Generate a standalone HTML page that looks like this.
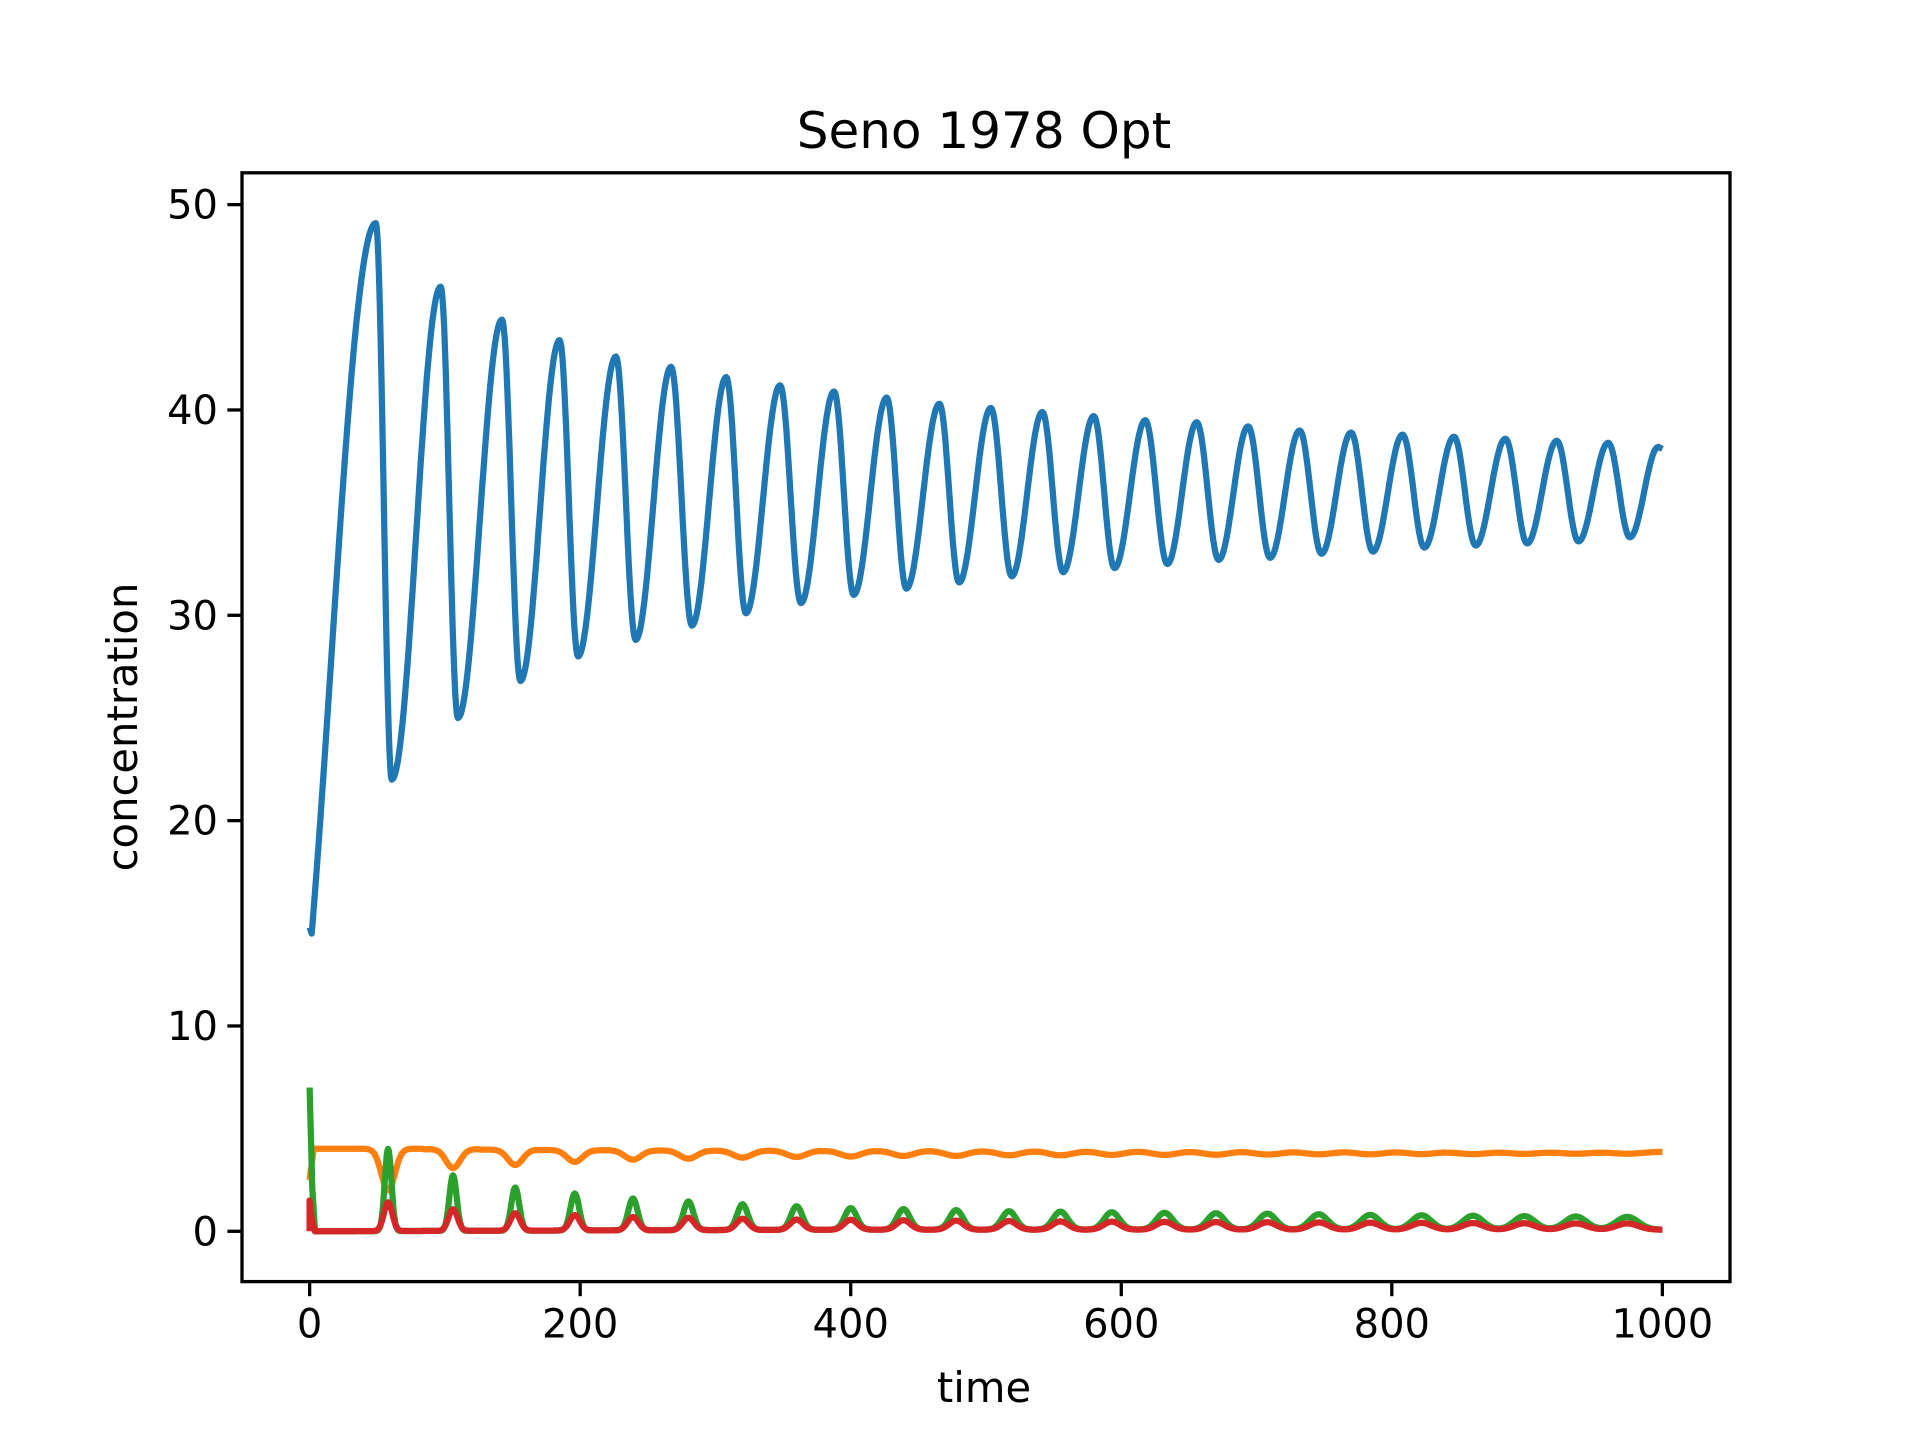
<!DOCTYPE html>
<html><head><meta charset="utf-8"><style>
body{margin:0;background:#fff}
svg{display:block}
text{font-family:"DejaVu Sans","Liberation Sans",sans-serif;fill:#000}
</style></head><body>
<svg id="chart" width="1920" height="1440" viewBox="0 0 1920 1440" xmlns="http://www.w3.org/2000/svg">
<rect width="1920" height="1440" fill="#fff"/>
<text x="984" y="148" font-size="50" text-anchor="middle">Seno 1978 Opt</text>
<text x="984" y="1402" font-size="41.7" text-anchor="middle">time</text>
<text transform="translate(137,727) rotate(-90)" font-size="41.7" text-anchor="middle">concentration</text>
<g id="plot"></g>
<rect x="242" y="172.8" width="1488" height="1108.8" fill="none" stroke="#000" stroke-width="3.3"/>
<g id="ticks"></g>
</svg>
<script>
const xTicks=[0,200,400,600,800,1000];
const yTicks=[0,10,20,30,40,50];
const blueStart=[[0,14.8],[1.5,14.5]];
const peakTimes=[48.9,96.9,142.2,184.8,226.4,267.2,308,347.8,387.7,426.6,465.6,503.6,541.7,579.7,617.8,655.8,693.8,731.9,769.9,808,846,884,922,960];
const peakVals=[49.1,46,44.4,43.4,42.6,42.1,41.6,41.2,40.9,40.6,40.3,40.1,39.9,39.7,39.5,39.4,39.2,39.0,38.9,38.8,38.7,38.6,38.5,38.4];
const troughTimes=[60.7,109.6,155.8,198.4,241,282.6,322.5,363.2,402.2,441.1,480.1,519,557,595,634,672,710,748,786,824,862,900,938,976];
const troughVals=[22.0,25.0,26.8,28.0,28.8,29.5,30.1,30.6,31.0,31.3,31.6,31.9,32.1,32.3,32.5,32.7,32.8,33.0,33.1,33.3,33.4,33.5,33.6,33.8];
const blueEnd=[[997,38.2],[1000,38.1]];
const spikeTimes=[58,106,152,196,239,280,320,360,400,439,478,517,555,593,632,670,708,746,784,822,860,898,936,974];
const greenPeaks=[4.0,2.7,2.1,1.8,1.55,1.4,1.25,1.15,1.05,1.0,0.95,0.9,0.88,0.85,0.82,0.8,0.78,0.75,0.72,0.7,0.68,0.66,0.64,0.62];
const redPeaks=[1.4,1.05,0.85,0.75,0.65,0.6,0.55,0.5,0.48,0.46,0.44,0.42,0.4,0.39,0.38,0.37,0.36,0.35,0.34,0.33,0.32,0.31,0.3,0.3];
const orangeDips=[2.0,3.1,3.25,3.4,3.5,3.55,3.6,3.62,3.65,3.67,3.68,3.7,3.71,3.72,3.72,3.73,3.74,3.75,3.75,3.76,3.76,3.77,3.78,3.78];
const orangeBase=[4.02,4.02,4.0,3.98,3.96,3.95,3.94,3.93,3.93,3.92,3.92,3.91,3.91,3.9,3.9,3.9,3.9,3.89,3.89,3.89,3.88,3.88,3.88,3.88];
const xMin=-50,xMax=1050,yMin=-2.45,yMax=51.55;
const L=242,R=1730,T=172.8,B=1281.6;
const X=t=>L+(t-xMin)/(xMax-xMin)*(R-L);
const Y=v=>T+(yMax-v)/(yMax-yMin)*(B-T);
const NS="http://www.w3.org/2000/svg";
const plot=document.getElementById('plot'),tk=document.getElementById('ticks');
function path(pts,color,name){
  const p=document.createElementNS(NS,'path');
  p.setAttribute('d','M'+pts.map(q=>X(q[0]).toFixed(1)+','+Y(q[1]).toFixed(1)).join('L'));
  p.setAttribute('fill','none');p.setAttribute('stroke',color);p.setAttribute('stroke-width','6.25');
  p.setAttribute('stroke-linejoin','round');
  
  
  plot.appendChild(p);
}
function seg(out,t0,v0,t1,v1,n,mode){for(let i=1;i<=n;i++){const s=i/n;
  const f=mode==='sin'?Math.sin(Math.PI/2*s)*0.7+0.3*(1-Math.cos(Math.PI*s))/2:(1-Math.cos(Math.PI*s))/2;
  out.push([t0+(t1-t0)*s,v0+(v1-v0)*f]);}}
let bp=blueStart.slice();let pt=blueStart[1][0],pv=blueStart[1][1];
for(let i=0;i<peakTimes.length;i++){
  const mode=i===0?'sin':'cos';
  seg(bp,pt,pv,peakTimes[i],peakVals[i],40,mode);
  seg(bp,peakTimes[i],peakVals[i],troughTimes[i],troughVals[i],20,'cos');pt=troughTimes[i];pv=troughVals[i];}
seg(bp,pt,pv,blueEnd[0][0],blueEnd[0][1],20,'cos');bp.push(blueEnd[1]);
path(bp,'#1f77b4','series-blue');
let op=[[0,2.5],[3,4.02]];
for(let t=3;t<=1000;t+=0.5){let v=orangeBase[Math.min(23,Math.floor(t/42))];
  for(let i=0;i<spikeTimes.length;i++){const w=(5+i*0.3)*1.4,d=(t-spikeTimes[i])/w;v-=(orangeBase[i]-orangeDips[i])*Math.exp(-d*d);}
  op.push([t,v]);}
path(op,'#ff7f0e','series-orange');
function spikes(arr,start,base,w0,wg){let pts=[[0,start],[2,start*0.3]];
  for(let t=4;t<=1000;t+=0.5){let v=base*Math.min(1,t/400);
    for(let i=0;i<spikeTimes.length;i++){const w=w0+i*wg,d=(t-spikeTimes[i])/w;v+=arr[i]*Math.exp(-d*d);}
    pts.push([t,v]);}
  return pts;}
path(spikes(greenPeaks,7.0,0.08,3.5,0.35),'#2ca02c','series-green');
let rp=spikes(redPeaks,1.5,0.08,4.5,0.3);rp.unshift([0,0]);
path(rp,'#d62728','series-red');
xTicks.forEach(v=>{
  const l=document.createElementNS(NS,'line');l.setAttribute('x1',X(v));l.setAttribute('x2',X(v));l.setAttribute('y1',B);l.setAttribute('y2',B+14.6);l.setAttribute('stroke','#000');l.setAttribute('stroke-width','3.3');
  
  
  tk.appendChild(l);
  const s=document.createElementNS(NS,'text');s.setAttribute('x',X(v));s.setAttribute('y',B+56);s.setAttribute('font-size','40');s.setAttribute('text-anchor','middle');s.textContent=v;
  
  
  tk.appendChild(s);
});
yTicks.forEach(v=>{
  const l=document.createElementNS(NS,'line');l.setAttribute('x1',L-14.6);l.setAttribute('x2',L);l.setAttribute('y1',Y(v));l.setAttribute('y2',Y(v));l.setAttribute('stroke','#000');l.setAttribute('stroke-width','3.3');
  
  
  tk.appendChild(l);
  const s=document.createElementNS(NS,'text');s.setAttribute('x',L-24);s.setAttribute('y',Y(v)+14);s.setAttribute('font-size','40');s.setAttribute('text-anchor','end');s.textContent=v;
  
  
  tk.appendChild(s);
});
</script>
</body></html>
